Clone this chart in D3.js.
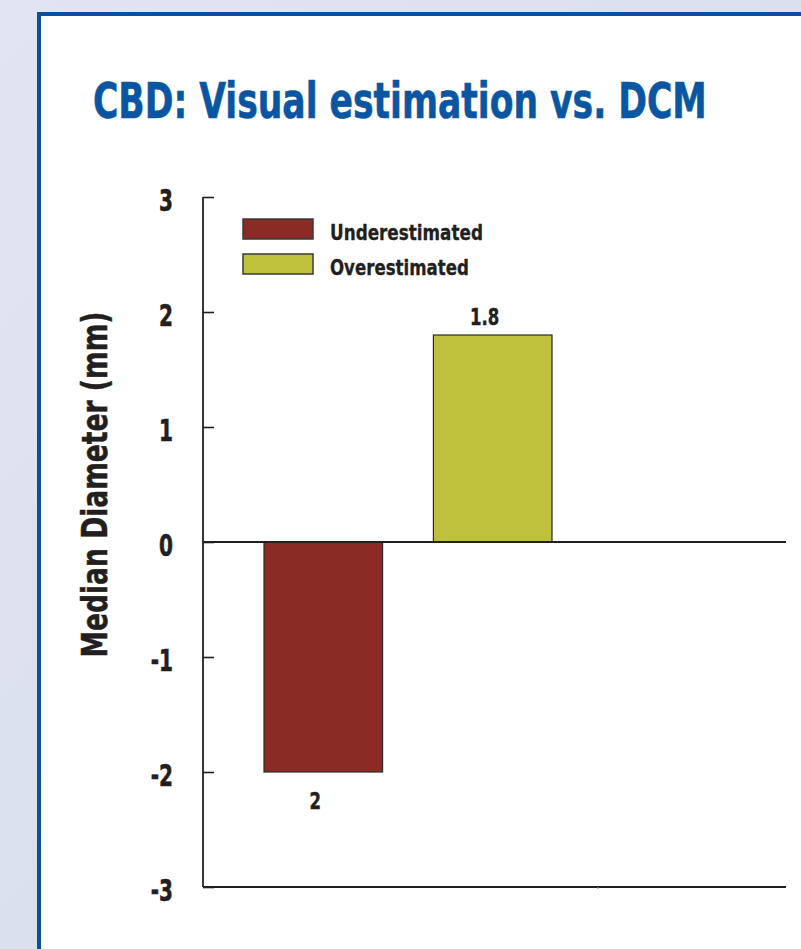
<!DOCTYPE html>
<html>
<head>
<meta charset="utf-8">
<script src="https://cdn.jsdelivr.net/npm/d3@7"></script>
<style>
  html, body { margin: 0; padding: 0; background: #fff; }
  svg { display: block; }
  .cond { font-family: "DejaVu Sans Condensed", "Liberation Sans Narrow", sans-serif; font-weight: bold; }
</style>
</head>
<body>
<script>
// Data
var groups = ["CBD"];
var series = ["Underestimated", "Overestimated"];
var values = [-2, 1.8];
var valueLabels = ["2", "1.8"];
var colors = ["#8b2b26", "#bfc03b"];
var yTicks = [3, 2, 1, 0, -1, -2, -3];

var W = 801, H = 949;

var svg = d3.select("body").append("svg").attr("width", W).attr("height", H);

// squeeze a text horizontally, either by a fixed factor or to a target width
function squeeze(t, x, y, sx, width){
  t.attr("x", 0).attr("y", 0);
  var k = sx;
  if(width) k = width / t.node().getComputedTextLength();
  t.attr("transform", "translate(" + x + "," + y + ") scale(" + k + ",1)");
  return t;
}

// Background
var defs = svg.append("defs");
var grad = defs.append("linearGradient").attr("id", "bg")
  .attr("x1", "0").attr("y1", "0").attr("x2", "1").attr("y2", "1");
grad.append("stop").attr("offset", "0").attr("stop-color", "#e2e5f1");
grad.append("stop").attr("offset", "0.5").attr("stop-color", "#dbe0ed");
grad.append("stop").attr("offset", "1").attr("stop-color", "#d6dbea");
svg.append("rect").attr("width", W).attr("height", H).attr("fill", "url(#bg)");

// Frame
svg.append("rect").attr("x", 39).attr("y", 14).attr("width", W).attr("height", H)
  .attr("fill", "#fff").attr("stroke", "#0a519d").attr("stroke-width", 4);

// Title
var title = svg.append("text").attr("class", "cond")
  .attr("font-size", 50).attr("fill", "#0a56a2")
  .attr("stroke", "#0a56a2").attr("stroke-width", 0.6)
  .text("CBD: Visual estimation vs. DCM");
squeeze(title, 93, 118, 1, 614);

// Scales
var y = d3.scaleLinear().domain([-3, 3]).range([887, 197]);
var x0 = d3.scaleBand().domain(groups).range([203, 598]);
var x1 = d3.scaleBand().domain(series).range([61, 349]).paddingInner(0.3);
var xEnd = 786;

var g = svg.append("g");

// Y axis
var yAxis = d3.axisRight(y).tickValues(yTicks).tickSize(11).tickFormat("");
var ya = g.append("g").attr("transform", "translate(203,0)").call(yAxis);
ya.select(".domain").remove();
ya.selectAll(".tick line").attr("stroke", "#231f20").attr("stroke-width", 1.6);
g.append("line").attr("x1", 203).attr("x2", 203).attr("y1", y(3)).attr("y2", y(-3))
  .attr("stroke", "#231f20").attr("stroke-width", 1.8);

// Tick labels
g.selectAll(".ylab").data(yTicks).enter().append("text")
  .attr("class", "cond ylab")
  .attr("text-anchor", "end")
  .attr("font-size", 31).attr("fill", "#231f20")
  .attr("stroke", "#231f20").attr("stroke-width", 0.6)
  .text(function(d){ return d; })
  .each(function(d){ squeeze(d3.select(this), 173, y(d) + 14, 0.72); });

// Y axis title
var yt = g.append("text").attr("class", "cond")
  .attr("text-anchor", "middle")
  .attr("font-size", 36).attr("fill", "#231f20")
  .attr("stroke", "#231f20").attr("stroke-width", 0.5)
  .text("Median Diameter (mm)");
yt.attr("x", 0).attr("y", 0);
var ytk = 346 / yt.node().getComputedTextLength();
yt.attr("transform", "translate(107," + y(0.5) + ") rotate(-90) scale(" + ytk + ",1)");

// Bars
var bars = g.append("g").attr("transform", "translate(" + x0(groups[0]) + ",0)");
bars.selectAll("rect").data(values).enter().append("rect")
  .attr("x", function(d, i){ return x1(series[i]); })
  .attr("y", function(d){ return y(Math.max(0, d)); })
  .attr("width", x1.bandwidth())
  .attr("height", function(d){ return Math.abs(y(d) - y(0)); })
  .attr("fill", function(d, i){ return colors[i]; })
  .attr("stroke", "#2b2b2b").attr("stroke-width", 1.2);

bars.selectAll(".vlab").data(values).enter().append("text")
  .attr("class", "cond vlab")
  .attr("text-anchor", "middle")
  .attr("font-size", 23).attr("fill", "#231f20")
  .attr("stroke", "#231f20").attr("stroke-width", 0.4)
  .text(function(d, i){ return valueLabels[i]; })
  .each(function(d, i){
    var cx = x1(series[i]) + x1.bandwidth() / 2 - 8;
    squeeze(d3.select(this), cx, d >= 0 ? y(d) - 10 : y(d) + 37, 0.8);
  });

// Zero line and bottom axis
g.append("line").attr("x1", 203).attr("x2", xEnd).attr("y1", y(0)).attr("y2", y(0))
  .attr("stroke", "#231f20").attr("stroke-width", 1.8);
g.append("line").attr("x1", 203).attr("x2", xEnd).attr("y1", y(-3)).attr("y2", y(-3))
  .attr("stroke", "#231f20").attr("stroke-width", 1.8);
g.append("line").attr("x1", x0.range()[1]).attr("x2", x0.range()[1])
  .attr("y1", y(-3)).attr("y2", y(-3) + 2)
  .attr("stroke", "#888").attr("stroke-width", 1);

// Legend
var legend = g.append("g").attr("transform", "translate(243,219)");
var li = legend.selectAll("g").data(series).enter().append("g")
  .attr("transform", function(d, i){ return "translate(0," + (i * 35) + ")"; });
li.append("rect").attr("width", 70).attr("height", 20)
  .attr("fill", function(d, i){ return colors[i]; })
  .attr("stroke", "#3a3a3a").attr("stroke-width", 1.5);
li.append("text").attr("class", "cond")
  .attr("font-size", 21).attr("fill", "#231f20")
  .attr("stroke", "#231f20").attr("stroke-width", 0.3)
  .text(function(d){ return d; })
  .each(function(d, i){ squeeze(d3.select(this), 87, 21, 1, i === 0 ? 153 : 139); });
</script>
</body>
</html>
